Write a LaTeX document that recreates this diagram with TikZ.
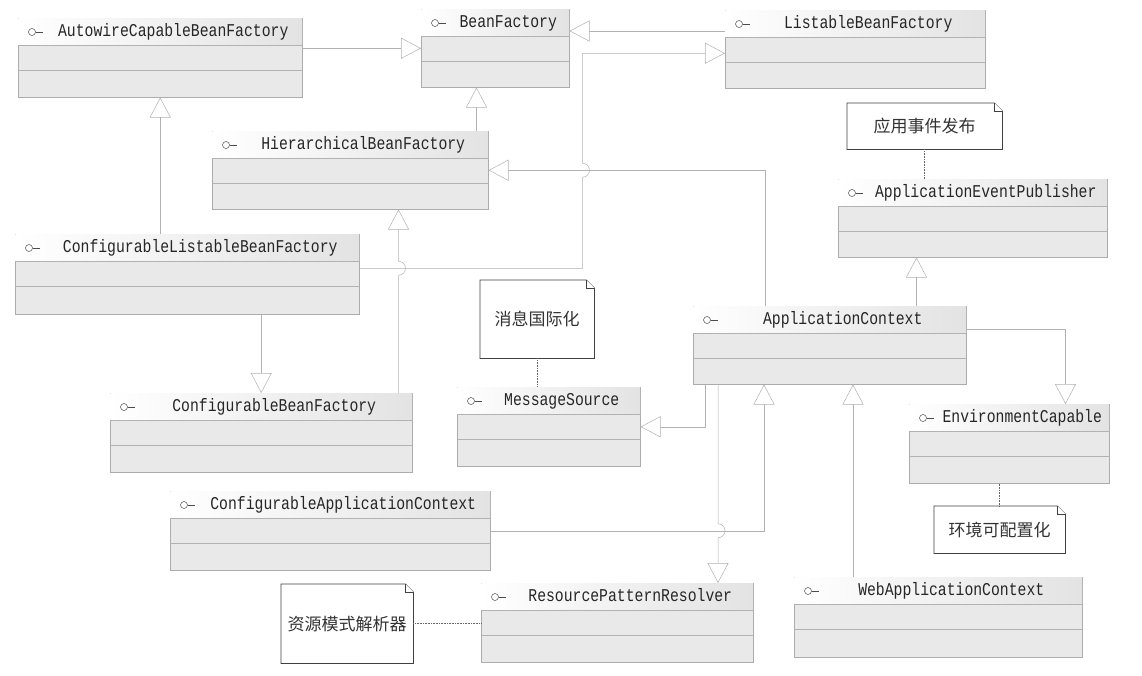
\documentclass[tikz,border=0pt]{standalone}
\usepackage{fontspec}
\usepackage{tikz}
\usetikzlibrary{arrows.meta, calc, positioning}
\newfontfamily\umlfont[FakeStretch=0.82]{Liberation Mono}
\newfontfamily\cjkfont{Noto Sans CJK SC}

\tikzset{
	ifacebox/.style={draw=gray!65, line width=0.5pt, fill=gray!17, anchor=north west, inner sep=0pt},
	divider/.style={draw=gray!60, line width=0.5pt},
	icon/.style={draw=black!70, line width=0.5pt},
	ifacename/.style={font=\umlfont\fontsize{18pt}{20pt}\selectfont, text=black!85, inner sep=0pt, text height=12pt, text depth=3pt},
	notebox/.style={anchor=north west, inner sep=0pt, font=\cjkfont\fontsize{17pt}{20pt}\selectfont, text=black!80},
	noteline/.style={draw=black!75, line width=0.7pt, fill=white},
	gen/.style={draw=gray!60, line width=0.5pt, -{Triangle[open, length=20pt, width=21pt]}},
	link/.style={draw=black!60, line width=0.6pt, densely dotted}
}

\newcommand{\iface}[6]{%
	\node[ifacebox, minimum width=#4pt, minimum height=#5pt] (#1) at (#2,#3) {};
	\shade[left color=white, right color=gray!22] ([shift={(0.4pt,-0.4pt)}]#1.north west) rectangle ([shift={(-0.4pt,-27pt)}]#1.north east);
	\draw[divider] ([yshift=-27pt]#1.north west) -- ([yshift=-27pt]#1.north east);
	\draw[divider] ([yshift=-52pt]#1.north west) -- ([yshift=-52pt]#1.north east);
	\draw[icon] ([shift={(14pt,-14pt)}]#1.north west) circle (3.5pt);
	\draw[icon] ([shift={(17.5pt,-14pt)}]#1.north west) -- ++(7pt,0);
	\node[ifacename] at ($([shift={(26pt,-14pt)}]#1.north west)!0.5!([yshift=-14pt]#1.north east)$) {#6};
}

\newcommand{\umlnote}[6]{%
	\node[notebox, minimum width=#4pt, minimum height=#5pt] (#1) at (#2,#3) {};
	\draw[noteline] (#1.north west) -- ([xshift=-8pt]#1.north east) -- ([yshift=-8pt]#1.north east) -- (#1.south east) -- (#1.south west) -- cycle;
	\draw[noteline] ([xshift=-8pt]#1.north east) |- ([yshift=-8pt]#1.north east);
	\node[notebox, anchor=center] at (#1.center) {#6};
}

\begin{document}
\begin{tikzpicture}[x=1pt, y=-1pt]
	\useasboundingbox[fill=white] (0,0) rectangle (1142,675);

	\iface{autowire}{18}{18}{284}{79}{AutowireCapableBeanFactory}
	\iface{beanf}{421}{9}{148}{78}{BeanFactory}
	\iface{listable}{725}{10}{260}{78}{ListableBeanFactory}
	\iface{hier}{212}{131}{276}{78}{HierarchicalBeanFactory}
	\iface{aep}{838}{179}{269}{78}{ApplicationEventPublisher}
	\iface{clbf}{15}{234}{344}{80}{ConfigurableListableBeanFactory}
	\iface{ac}{693}{306}{273}{78}{ApplicationContext}
	\iface{msgsrc}{457}{387}{183}{79}{MessageSource}
	\iface{cbf}{110}{393}{302}{79}{ConfigurableBeanFactory}
	\iface{ec}{909}{404}{200}{79}{EnvironmentCapable}
	\iface{cac}{170}{491}{320}{79}{ConfigurableApplicationContext}
	\iface{rpr}{481}{583}{272}{79}{ResourcePatternResolver}
	\iface{wac}{794}{577}{288}{80}{WebApplicationContext}

	\umlnote{evnote}{847}{103}{155}{46}{应用事件发布}
	\umlnote{msgnote}{480}{280}{114}{78}{消息国际化}
	\umlnote{resnote}{281}{584}{132}{79}{资源模式解析器}
	\umlnote{envnote}{934}{506}{131}{47}{环境可配置化}

	\coordinate (bus) at ([xshift=13pt]beanf.east);
	\coordinate (clbfout) at ([yshift=6pt]clbf.east);
	\coordinate (cbfup) at ([xshift=-14pt]cbf.north east);
	\coordinate (acdown) at ([xshift=25pt]ac.south west);

	\draw[gen] (autowire.east |- beanf.west) -- (beanf.west);
	\draw[gen] ([yshift=-21pt]listable.north west) -- ([yshift=-21pt]listable.north west -| beanf.east);
	\draw[gen] ([xshift=-12pt]hier.north east) -- ([xshift=-12pt]hier.north east |- beanf.south);
	\draw[gen] (autowire.south |- clbf.north) -- (autowire.south);
	\draw[gen] (clbfout) -| ($(bus |- hier.east)+(0,7)$) arc[start angle=-90, end angle=90, radius=7pt] |- ([yshift=-4pt]listable.west);
	\draw[gen] ([xshift=72pt]ac.north west) |- (hier.east);
	\draw[gen] (cbfup) -- ($(cbfup |- clbfout)+(0,7)$) arc[start angle=-90, end angle=90, radius=7pt] -- (cbfup |- hier.south);
	\draw[gen] (cbf.north |- clbf.south) -- (cbf.north);
	\draw[gen] ([xshift=-50pt]ac.north east) -- ([xshift=-50pt]ac.north east |- aep.south);
	\draw[gen] ([xshift=12pt]ac.south west) |- (msgsrc.east);
	\draw[gen] (acdown) -- ($(acdown |- cac.east)+(0,-7)$) arc[start angle=90, end angle=-90, radius=7pt] -- (acdown |- rpr.north);
	\draw[gen] (cac.east) -| ([xshift=71pt]ac.south west);
	\draw[gen] ([xshift=59pt]wac.north west) -- ([xshift=59pt]wac.north west |- ac.south);
	\draw[gen] ([yshift=-23pt]ac.north east) -| ([xshift=-44pt]ec.north east);

	\draw[link] (evnote.south) -- (evnote.south |- aep.north);
	\draw[link] (msgnote.south) -- (msgnote.south |- msgsrc.north);
	\draw[link] (ec.south -| envnote.north) -- (envnote.north);
	\draw[link] (resnote.east) -- (resnote.east -| rpr.west);
\end{tikzpicture}
\end{document}
